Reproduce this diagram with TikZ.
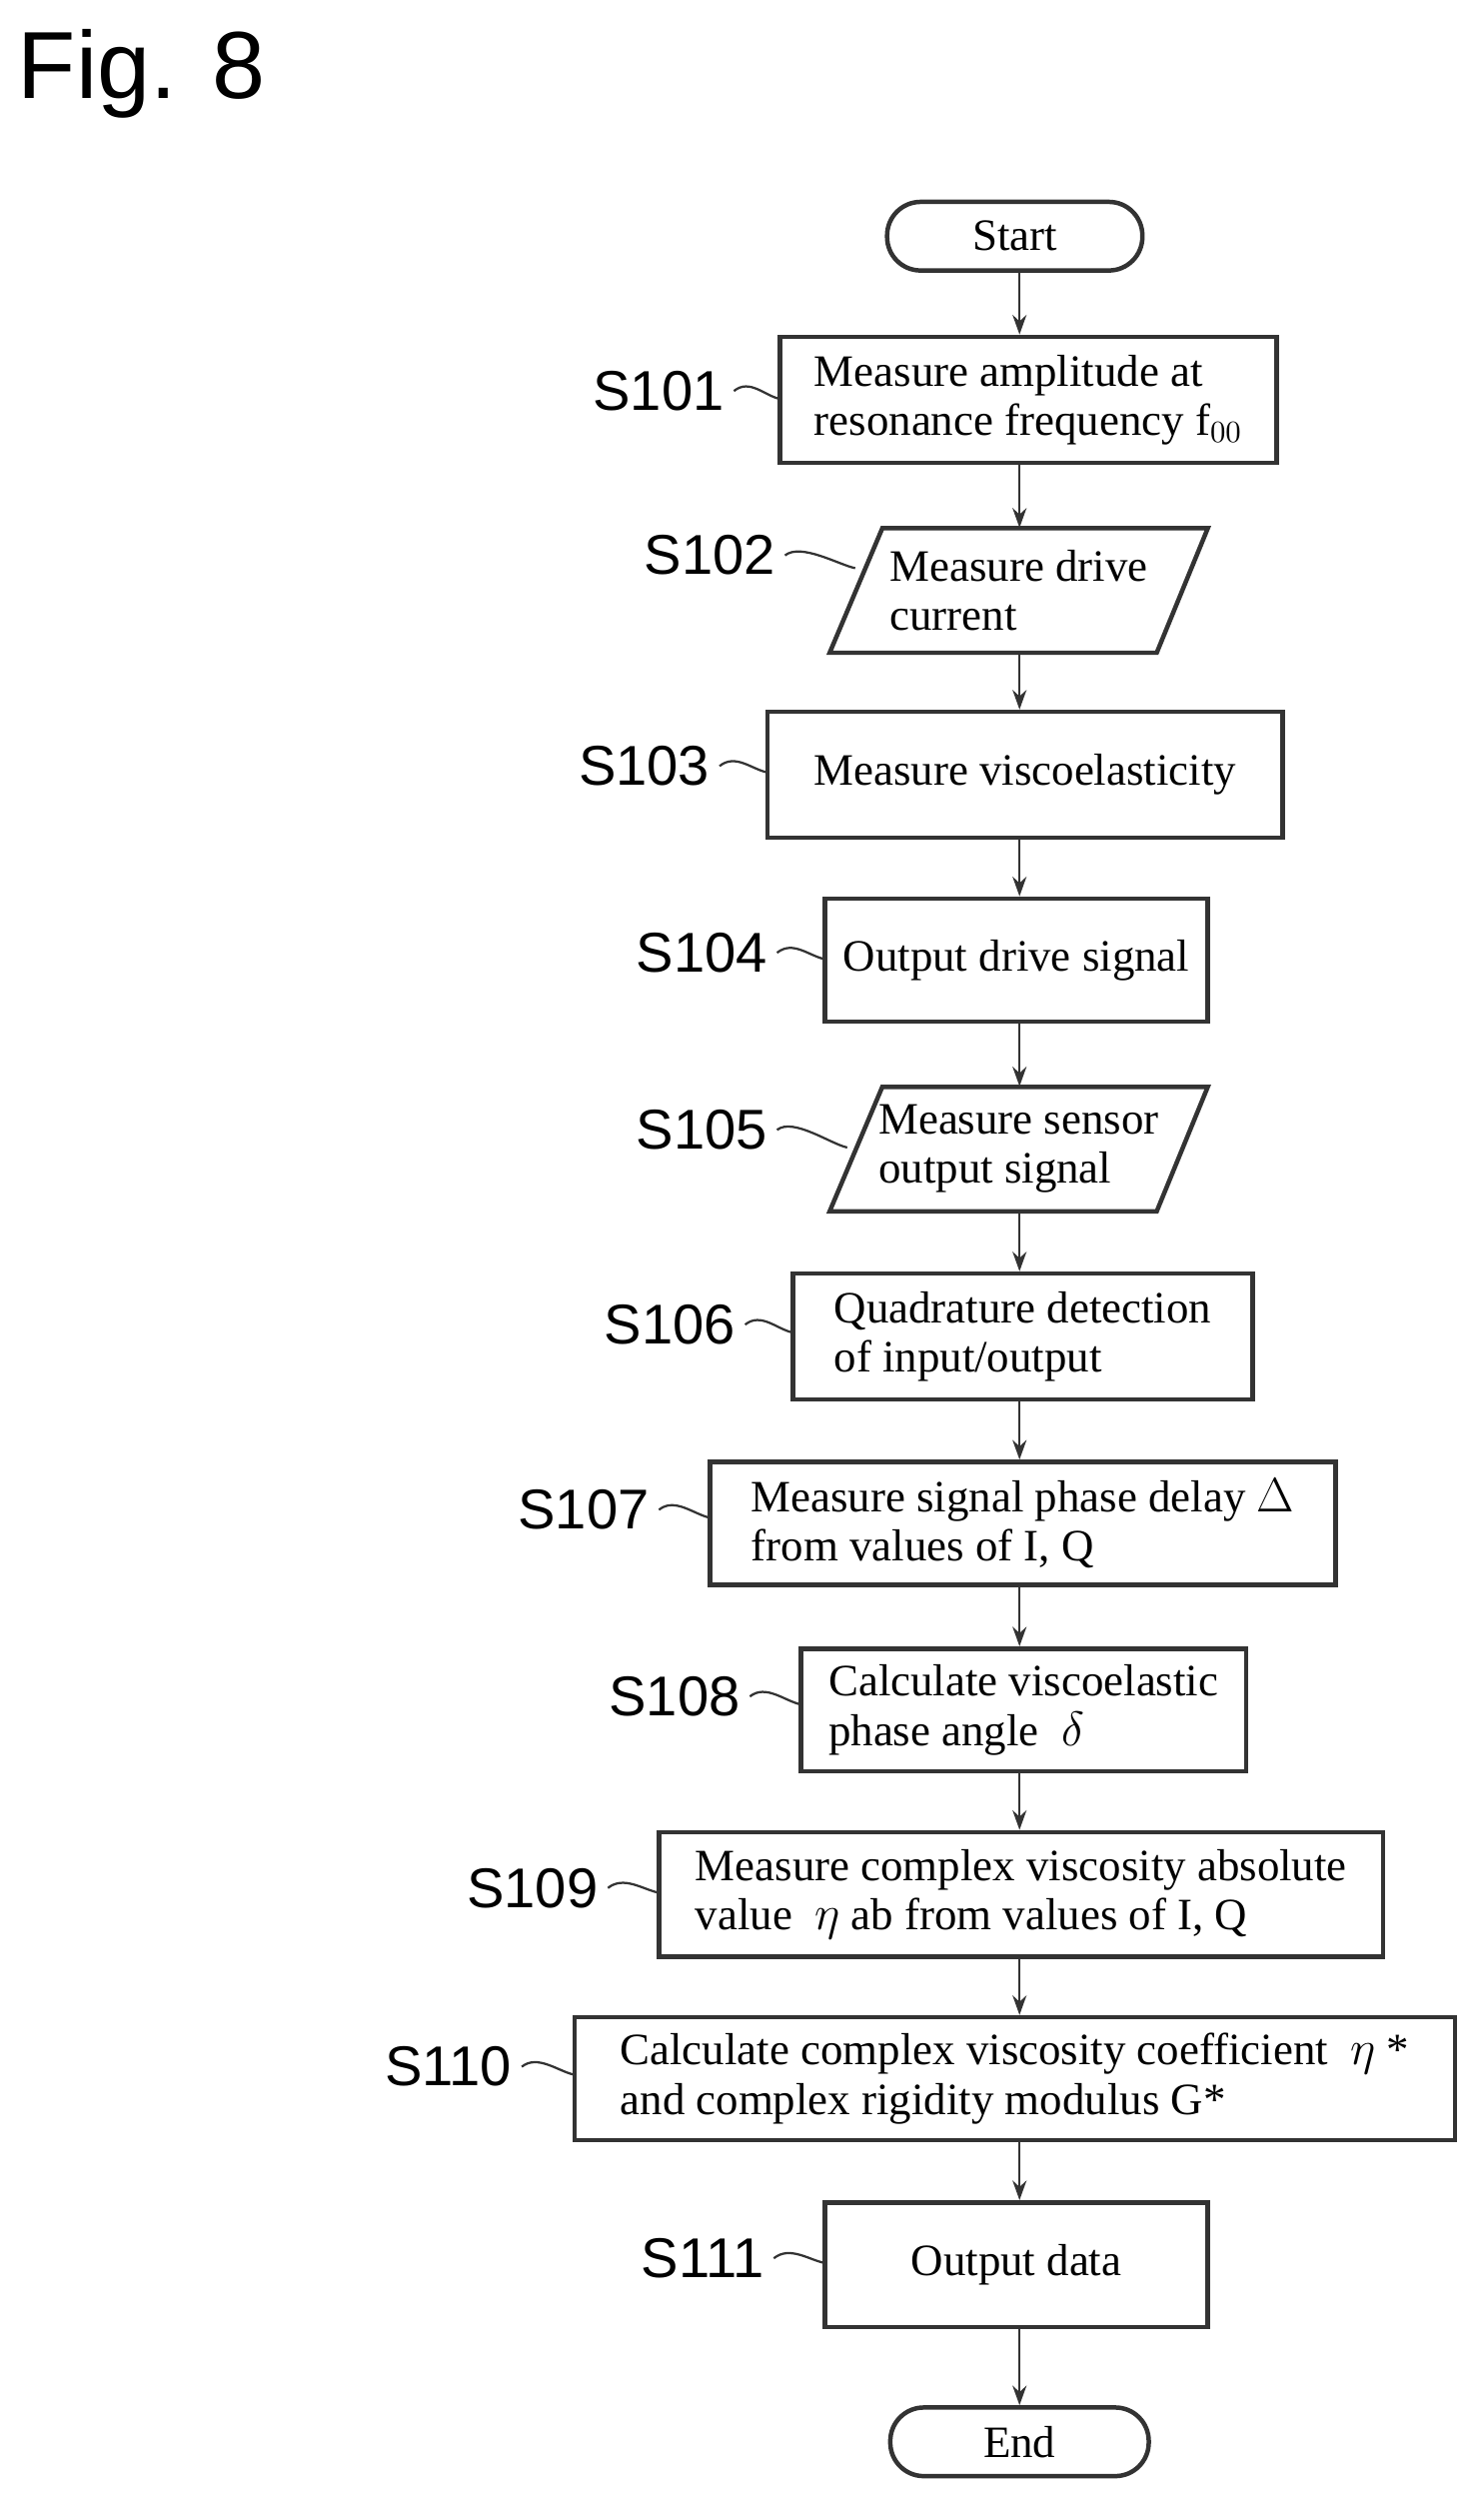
\documentclass[tikz,border=0pt]{standalone}
\usepackage{fontspec}
\usetikzlibrary{arrows.meta}
\setmainfont{Liberation Serif}
\setsansfont{Liberation Sans}
\begin{document}
\begin{tikzpicture}[x=0.02cm,y=-0.02cm,
  box/.style={draw=black!80,line width=1.6pt,fill=white},
  txt/.style={font=\fontsize{16}{17.5}\selectfont,align=left},
  lab/.style={font=\sffamily\fontsize{20}{20}\selectfont},
  arr/.style={-{Stealth[length=7pt,width=5pt]},line width=0.8pt,black!80},
  sq/.style={line width=0.8pt,black!80}]
\useasboundingbox (0,0) rectangle (930,1574);
\node[font=\sffamily\fontsize{34}{34}\selectfont,anchor=north west] (fig) at (5,12) {Fig. 8};
\def\ax{639}
% terminals
\node[box,minimum width=160*0.02cm,minimum height=43*0.02cm,txt,rounded corners=0.42cm] (start) at (636,148) {Start};
\node[box,minimum width=162*0.02cm,minimum height=43*0.02cm,txt,rounded corners=0.42cm] (end) at (639,1530) {End};
% rectangles
\newcommand\rbox[5]{\node[box,minimum width=#3*0.02cm,minimum height=#4*0.02cm,txt] (#1) at (#2) {#5};}
\rbox{s101}{644.5,250.5}{311}{79}{Measure amplitude at\\resonance frequency f$_{00}$}
\rbox{s103}{642.5,485.5}{323}{79}{Measure viscoelasticity}
\rbox{s104}{637,601.5}{240}{77}{Output drive signal}
\rbox{s106}{641,837.5}{288}{79}{Quadrature detection\\of input/output}
\rbox{s107}{641,954.5}{392}{77}{Measure signal phase delay $\Delta$\\from values of I, Q}
\rbox{s108}{641.5,1071.5}{279}{77}{Calculate viscoelastic\\phase angle \ $\delta$}
\rbox{s109}{640,1187}{454}{78}{Measure complex viscosity absolute\\value \ $\eta$ ab from values of I, Q}
\rbox{s110}{636,1302.5}{552}{77}{Calculate complex viscosity coefficient \ $\eta$ *\\and complex rigidity modulus G*}
\rbox{s111}{637,1419}{240}{78}{Output data}
% parallelograms
\draw[box] (553,331) -- (757,331) -- (725,409) -- (520,409) -- cycle;
\node[txt,minimum width=237*0.02cm,minimum height=78*0.02cm] (s102) at (638.5,370) {Measure drive\\current\phantom{ve}};
\draw[box] (553,681) -- (757,681) -- (725,759) -- (520,759) -- cycle;
\node[txt,minimum width=237*0.02cm,minimum height=78*0.02cm] (s105) at (638.5,720) {Measure sensor\\output signal};
% arrows
\foreach \a/\b in {start/s101,s101/s102,s102/s103,s103/s104,s104/s105,s105/s106,s106/s107,s107/s108,s108/s109,s109/s110,s110/s111,s111/end}
  \draw[arr] (\a.south -| \ax,0) -- (\b.north -| \ax,0);
% labels
\newcommand\slab[5]{\node[lab,anchor=east] (l#1) at (#2,#3) {#1};
  \draw[sq] (l#1.east) .. controls ++(10,-8) and ++(-10,-2) .. ++(#4-#2,#5-#3);}
\slab{S101}{460}{245}{489}{250}
\slab{S102}{492}{348}{536}{356}
\slab{S103}{451}{480}{481}{484}
\slab{S104}{487}{597}{517}{601}
\slab{S105}{487}{708}{531}{719}
\slab{S106}{467}{830}{497}{835}
\slab{S107}{413}{946}{445}{951}
\slab{S108}{470}{1063}{502}{1068}
\slab{S109}{381}{1183}{413}{1186}
\slab{S110}{327}{1295}{360}{1300}
\slab{S111}{485}{1415}{517}{1418}
\end{tikzpicture}
\end{document}
